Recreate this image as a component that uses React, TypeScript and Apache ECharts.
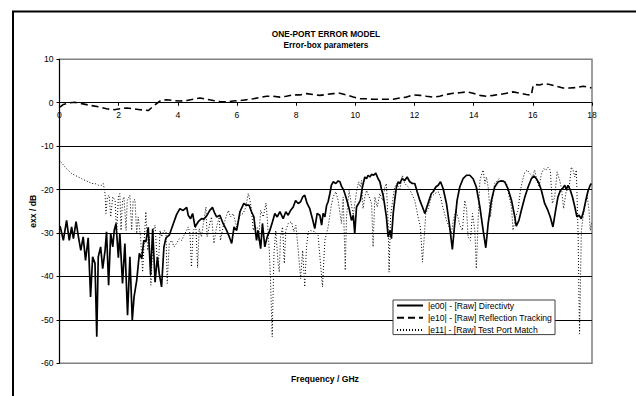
import React, { useEffect, useRef } from 'react';
import * as echarts from 'echarts';

// |e00| Directivity
const dirFreq = [0.02,0.13,0.24,0.33,0.41,0.47,0.56,0.64,0.72,0.80,0.88,0.97,1.05,1.12,1.20,1.26,1.31,1.39,1.46,1.54,1.59,1.66,1.73,1.80,1.85,1.91,1.99,2.04,2.13,2.21,2.30,2.38,2.46,2.52,2.61,2.70,2.78,2.85,2.92,3.00,3.08,3.15,3.23,3.31,3.37,3.45,3.53,3.60,3.71,3.85,3.96,4.07,4.18,4.30,4.35,4.43,4.50,4.58,4.69,4.80,4.88,4.99,5.08,5.17,5.25,5.31,5.42,5.53,5.65,5.74,5.82,5.90,5.99,6.10,6.23,6.32,6.41,6.49,6.57,6.66,6.71,6.80,6.86,6.94,7.02,7.11,7.20,7.28,7.36,7.45,7.56,7.65,7.73,7.81,7.90,7.98,8.07,8.15,8.22,8.29,8.37,8.46,8.55,8.63,8.71,8.80,
  8.86,8.91,8.97,9.03,9.08,9.14,9.19,9.25,9.34,9.42,9.48,9.53,9.61,9.70,9.79,9.87,9.93,9.98,10.04,10.11,10.17,10.24,10.32,10.38,10.43,10.49,10.55,10.62,10.69,10.77,10.83,10.88,10.94,11.00,11.05,11.11,11.17,11.22,11.28,11.33,11.39,11.45,11.50,11.58,11.67,11.75,11.84,11.93,12.01,12.09,12.18,12.27,12.35,12.40,12.49,12.57,12.63,12.72,12.80,12.88,12.97,13.08,13.19,13.28,13.36,13.44,13.53,13.64,13.76,13.87,13.98,14.09,14.21,14.32,14.41,14.49,14.60,14.71,14.83,14.94,15.05,15.16,15.28,15.39,15.44,15.53,15.61,15.73,15.84,15.95,16.04,16.12,16.21,16.29,16.40,16.51,16.59,16.68,16.77,16.85,16.93,17.00,17.08,17.13,17.19,17.27,17.34,17.42,17.49,17.56,17.64,17.72,17.79,17.87,17.94,17.98];
const dirDb = [-28.4,-31.7,-27.1,-31.7,-28.6,-31.3,-27.4,-30.9,-34.0,-30.9,-36.3,-31.1,-44.7,-35.5,-37.0,-53.9,-35.5,-33.2,-38.2,-34.0,-29.7,-42.0,-30.1,-33.2,-29.4,-27.8,-35.7,-30.1,-41.6,-32.4,-48.9,-35.5,-50.1,-44.7,-40.9,-34.7,-35.9,-31.7,-32.0,-28.7,-39.7,-29.0,-41.3,-35.5,-39.3,-42.4,-33.2,-31.1,-30.5,-27.8,-25.7,-24.4,-24.8,-24.1,-25.9,-26.7,-25.5,-28.6,-27.4,-26.7,-26.8,-25.9,-24.8,-24.1,-25.5,-26.3,-25.9,-27.8,-29.4,-30.9,-32.4,-28.6,-29.4,-25.1,-23.2,-23.6,-23.6,-25.1,-26.3,-31.7,-29.4,-33.6,-27.8,-33.2,-30.9,-29.4,-27.4,-25.5,-26.3,-25.1,-26.7,-25.1,-25.9,-24.8,-24.0,-22.5,-23.2,-22.8,-21.7,-21.3,-23.2,-24.4,-26.7,-29.0,-25.5,-25.9,
  -28.2,-25.5,-26.3,-23.6,-22.8,-20.9,-19.0,-18.2,-18.6,-18.0,-18.2,-19.2,-20.2,-22.1,-24.4,-27.1,-25.9,-30.1,-24.0,-23.2,-22.5,-19.4,-17.1,-17.5,-16.7,-17.1,-16.5,-16.7,-16.2,-17.5,-18.2,-19.8,-21.3,-24.0,-26.3,-30.9,-29.4,-31.3,-25.5,-22.5,-19.4,-18.2,-18.6,-17.5,-17.9,-17.1,-18.2,-18.6,-18.6,-20.5,-22.5,-24.0,-25.5,-24.4,-22.5,-20.9,-20.5,-19.4,-19.0,-18.2,-19.8,-23.2,-28.6,-33.8,-27.8,-22.5,-19.4,-17.5,-16.7,-16.7,-17.5,-19.4,-24.0,-29.4,-33.4,-27.8,-22.5,-19.4,-18.2,-18.0,-18.2,-19.8,-22.5,-26.3,-28.4,-27.1,-24.8,-21.7,-19.4,-17.5,-16.9,-17.5,-18.6,-20.2,-23.2,-24.8,-26.3,-28.6,-24.8,-21.7,-20.2,-19.8,-19.0,-20.0,-19.0,-20.2,-21.7,-24.0,-26.3,-25.9,-26.7,-24.8,-22.5,-20.2,-19.0,-18.6];

// |e10| Reflection Tracking
const trkFreq = [0.02,0.13,0.35,0.52,0.75,1.03,1.37,1.59,1.85,2.04,2.27,2.50,2.72,3.00,3.17,3.40,3.62,3.85,4.07,4.30,4.52,4.75,4.97,5.20,5.42,5.65,5.87,6.10,6.32,6.55,6.77,7.00,7.22,7.45,7.67,7.90,8.12,8.35,8.58,8.80,
  9.03,9.25,9.48,9.70,9.93,10.15,10.38,10.60,10.83,11.05,11.28,11.50,11.73,11.95,12.18,12.40,12.63,12.85,13.08,13.31,13.53,13.76,13.98,14.21,14.43,14.66,14.88,15.11,15.33,15.56,15.78,15.95,16.01,16.06,16.23,16.40,16.57,16.80,17.02,17.25,17.47,17.70,17.87,17.98];
const trkDb = [-1.0,-0.4,0.0,0.1,-0.2,-0.6,-1.0,-1.4,-1.6,-1.4,-1.2,-1.4,-1.6,-1.8,-0.8,0.4,0.7,0.5,0.4,0.5,0.8,1.1,0.8,0.5,0.3,0.2,0.4,0.5,0.7,0.9,1.2,1.5,1.5,1.3,1.5,1.8,1.8,2.1,1.9,1.7,
  1.9,2.1,2.2,1.8,1.3,0.9,0.9,0.8,0.8,0.8,0.8,1.1,1.3,1.8,1.7,1.5,1.3,1.5,1.9,2.2,2.3,2.5,2.2,1.7,1.5,1.7,1.9,2.2,2.5,2.2,1.9,1.7,4.0,4.2,4.1,4.4,4.2,3.8,3.4,3.4,3.5,3.8,3.6,3.4];

// |e11| Test Port Match
const matFreq = [0.04,0.24,0.41,0.52,0.64,0.75,0.87,0.97,1.09,1.20,1.31,1.42,1.48,1.54,1.57,1.62,1.68,1.73,1.80,1.88,1.93,1.99,2.04,2.08,2.13,2.18,2.25,2.29,2.38,2.44,2.49,2.55,2.61,2.66,2.74,2.81,2.87,2.92,2.98,3.04,3.09,3.17,3.23,3.28,3.34,3.40,3.45,3.53,3.60,3.64,3.71,3.79,3.87,3.96,4.05,4.13,4.21,4.30,4.35,4.41,4.46,4.52,4.61,4.67,4.72,4.80,4.88,4.95,4.99,5.08,5.14,5.22,5.31,5.40,5.44,5.53,5.63,5.71,5.78,5.87,5.99,6.10,6.21,6.30,6.38,6.44,6.49,6.55,6.61,6.68,6.73,6.80,6.89,6.98,7.02,7.09,7.13,7.19,7.25,7.31,7.39,7.43,7.47,7.54,7.60,7.65,7.73,7.84,7.92,7.99,8.07,8.15,8.22,8.29,8.35,8.41,
  8.46,8.63,8.74,8.89,8.97,9.08,9.19,9.25,9.34,9.42,9.53,9.59,9.66,9.70,9.79,9.87,9.93,10.04,10.11,10.17,10.21,10.26,10.32,10.38,10.49,10.55,10.60,10.66,10.74,10.83,10.92,11.00,11.05,11.11,11.14,11.19,11.26,11.33,11.41,11.50,11.59,11.67,11.79,11.90,12.01,12.12,12.20,12.27,12.33,12.38,12.46,12.57,12.69,12.80,12.88,12.97,13.08,13.17,13.25,13.31,13.40,13.47,13.53,13.62,13.70,13.76,13.81,13.89,13.96,14.04,14.09,14.15,14.21,14.26,14.32,14.38,14.43,14.49,14.57,14.63,14.71,14.77,14.86,14.94,15.02,15.11,15.20,15.28,15.33,15.42,15.50,15.58,15.65,15.73,15.81,15.90,15.99,16.06,16.14,16.21,16.29,16.37,16.44,16.51,16.59,16.66,16.74,16.82,16.91,16.97,17.04,17.13,17.22,17.30,17.36,17.42,17.47,17.53,17.56,17.58,17.64,17.70,17.75,17.83,17.90,17.94,17.98];
const matDb = [-13.6,-15.2,-16.3,-16.7,-17.1,-17.5,-17.9,-18.2,-18.6,-18.6,-19.0,-19.0,-18.6,-20.9,-25.5,-21.7,-21.3,-26.3,-21.7,-22.5,-30.1,-21.7,-20.9,-29.4,-22.5,-21.7,-29.4,-22.5,-21.3,-29.4,-22.5,-22.3,-30.1,-26.3,-30.9,-39.0,-30.9,-25.1,-34.0,-30.9,-42.0,-29.4,-28.2,-34.0,-37.8,-29.4,-30.9,-29.4,-29.7,-41.6,-32.4,-31.7,-33.2,-32.4,-31.3,-31.7,-30.5,-29.4,-28.6,-30.1,-37.8,-29.4,-28.6,-38.0,-29.0,-30.9,-27.1,-24.0,-30.9,-27.8,-26.3,-32.4,-28.6,-26.3,-31.7,-28.6,-26.3,-24.8,-26.3,-25.5,-28.6,-25.9,-25.5,-24.0,-20.9,-22.5,-24.8,-29.4,-28.6,-28.6,-31.7,-24.8,-26.3,-23.1,-26.3,-34.0,-40.1,-53.9,-34.7,-29.4,-37.0,-39.0,-30.9,-28.6,-37.0,-29.4,-27.8,-27.4,-29.7,-28.2,-34.0,-40.5,-34.0,-42.4,-33.2,-29.7,
  -29.4,-29.7,-30.5,-42.4,-31.7,-28.6,-23.6,-21.7,-20.5,-22.5,-27.8,-21.7,-38.6,-26.3,-20.2,-23.6,-25.9,-20.5,-18.2,-19.4,-17.9,-24.4,-21.7,-20.2,-22.1,-23.2,-33.2,-21.7,-24.0,-20.9,-22.5,-19.4,-18.6,-27.8,-39.0,-26.3,-22.5,-19.4,-18.6,-20.2,-16.7,-18.6,-19.4,-20.9,-22.5,-26.3,-28.6,-36.7,-30.9,-25.5,-24.4,-21.7,-20.9,-20.5,-21.7,-24.4,-27.1,-28.6,-30.1,-27.1,-24.8,-26.3,-28.2,-29.4,-22.5,-24.4,-30.9,-31.7,-25.5,-29.4,-38.2,-27.1,-18.0,-16.7,-15.5,-18.6,-17.1,-19.4,-26.3,-22.5,-18.6,-18.2,-17.5,-18.2,-17.9,-18.6,-21.7,-24.0,-29.4,-26.3,-24.8,-20.2,-17.9,-16.0,-15.5,-16.3,-17.1,-15.5,-17.9,-19.4,-16.3,-15.2,-15.5,-14.8,-15.5,-23.2,-21.7,-15.9,-17.9,-19.8,-24.4,-20.2,-20.2,-14.8,-15.5,-17.1,-15.5,-30.1,-45.0,-53.2,-29.4,-26.3,-24.4,-21.1,-24.8,-29.4,-27.8];

const seriesNames = ['|e00| - [Raw] Directivty', '|e10| - [Raw] Reflection Tracking', '|e11| - [Raw] Test Port Match'];
const titleLines = ['ONE-PORT ERROR MODEL', 'Error-box parameters'];
const xAxisTitle = 'Frequency / GHz';
const yAxisTitle = 'exx / dB';
const yMin = -60;
const yMax = 10;

const FONT = '"Liberation Sans", Arial, sans-serif';
const GRID = { left: 59.5, right: 44, top: 59.3, bottom: 32.7 };
const PLOT_H = 396 - GRID.top - GRID.bottom;

function pairs(f: number[], v: number[]) {
  const n = Math.min(f.length, v.length);
  const out: number[][] = [];
  for (let i = 0; i < n; i++) out.push([f[i], v[i]]);
  return out;
}

export default function App() {
  const ref = useRef<HTMLDivElement>(null);
  useEffect(() => {
    const chart = echarts.init(ref.current!, null, { renderer: 'svg' });
    const zeroOffset = -PLOT_H * (0 - yMin) / (yMax - yMin);
    chart.setOption({
      animation: false,
      backgroundColor: '#fff',
      textStyle: { fontFamily: FONT },
      grid: { ...GRID, show: true, borderColor: '#808080', borderWidth: 1.5, backgroundColor: 'transparent' },
      xAxis: {
        type: 'value', min: 0, max: 18, interval: 2,
        position: 'bottom', offset: zeroOffset,
        axisLine: { onZero: false, lineStyle: { color: '#000', width: 1 } },
        axisTick: { show: true, length: 3, lineStyle: { color: '#000' } },
        axisLabel: { color: '#000', fontSize: 8.6, margin: 8, fontFamily: FONT },
        splitLine: { show: false },
      },
      yAxis: {
        type: 'value', min: yMin, max: yMax, interval: 10,
        name: yAxisTitle, nameLocation: 'middle', nameGap: 22, nameMoveOverlap: false,
        nameTextStyle: { color: '#000', fontSize: 8.6, fontWeight: 'bold', fontFamily: FONT },
        axisLine: { show: true, onZero: false, lineStyle: { color: '#000', width: 1 } },
        axisTick: { show: true, length: 3, lineStyle: { color: '#000' } },
        axisLabel: { color: '#000', fontSize: 8.6, margin: 6, fontFamily: FONT },
        splitLine: { show: true, lineStyle: { color: ['#808080', '#000', '#000', '#000', '#000', '#000', '#000', '#808080'], width: 1 } },
      },
      legend: {
        orient: 'vertical', left: 393, top: 300,
        itemWidth: 26, itemHeight: 10, itemGap: 3.3,
        padding: [1, 3, 0, 3],
        backgroundColor: '#fff', borderColor: '#404040', borderWidth: 1,
        itemStyle: { opacity: 0 },
        textStyle: { color: '#000', fontSize: 8.6, fontFamily: FONT },
        data: seriesNames,
      },
      graphic: [
        { type: 'rect', z: -10, shape: { x: 13, y: 11.5, width: 700, height: 500 }, style: { fill: 'none', stroke: '#000', lineWidth: 2 } },
        { type: 'text', x: 326, y: 34, style: { text: titleLines[0], fill: '#000', font: `bold 8.3px ${FONT}`, align: 'center', verticalAlign: 'middle' } },
        { type: 'text', x: 326, y: 45, style: { text: titleLines[1], fill: '#000', font: `bold 8.3px ${FONT}`, align: 'center', verticalAlign: 'middle' } },
        { type: 'text', x: 325, y: 379, style: { text: xAxisTitle, fill: '#000', font: `bold 8.6px ${FONT}`, align: 'center', verticalAlign: 'middle' } },
      ],
      series: [
        { name: seriesNames[0], type: 'line', symbol: 'none', showSymbol: false, z: 4, data: pairs(dirFreq, dirDb), lineStyle: { color: '#000', width: 1.7 }, itemStyle: { color: '#000' } },
        { name: seriesNames[1], type: 'line', symbol: 'none', showSymbol: false, z: 3, data: pairs(trkFreq, trkDb), lineStyle: { color: '#000', width: 1.6, type: [7, 4] }, itemStyle: { color: '#000' } },
        { name: seriesNames[2], type: 'line', symbol: 'none', showSymbol: false, z: 2, data: pairs(matFreq, matDb), lineStyle: { color: '#000', width: 1, type: [1, 2] }, itemStyle: { color: '#000' } },
      ],
    });
    return () => chart.dispose();
  }, []);
  return <div ref={ref} style={{ position: 'absolute', left: 0, top: 0, width: 636, height: 396, background: '#fff' }} />;
}
